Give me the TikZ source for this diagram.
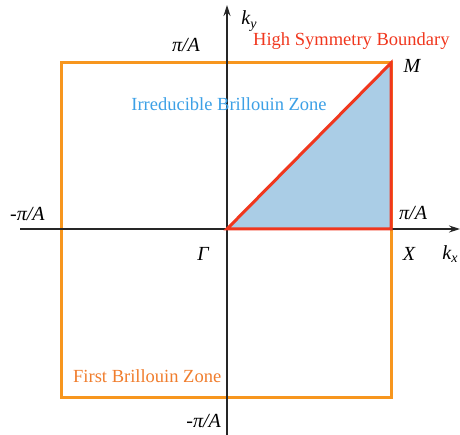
\documentclass[tikz,border=0pt]{standalone}
\usepackage{fontspec}
\setmainfont{Liberation Serif}
\newfontfamily\tms{Liberation Serif}
\usetikzlibrary{arrows.meta}
\definecolor{zoneorange}{RGB}{247,150,30}
\definecolor{zonered}{RGB}{240,55,30}
\definecolor{ibzfill}{RGB}{170,205,230}
\definecolor{ibztext}{RGB}{60,160,230}
\definecolor{fbztext}{RGB}{240,125,45}
\tikzset{
  axis/.style={draw=black!85, line width=1.3pt, -{Stealth[length=11pt,width=7pt]}},
  lbl/.style={inner sep=0pt, font=\tms\fontsize{20}{22}\selectfont\itshape},
  txt/.style={inner sep=0pt, font=\tms\fontsize{18.5}{20}\selectfont},
}
\begin{document}
\begin{tikzpicture}[x=1pt,y=-1pt]
\useasboundingbox (0,0) rectangle (460,435);
% key points
\coordinate (G) at (227,229);
\coordinate (Xp) at (391,229);
\coordinate (Mp) at (391,63);
\coordinate (TL) at (61,63);
\coordinate (BR) at (391,397);
\coordinate (axL) at (20,229);
\coordinate (axR) at (460,229);
\coordinate (axB) at (227,435);
\coordinate (axT) at (227,5);
% first Brillouin zone
\draw[zoneorange, line width=3pt] (TL) rectangle (BR);
% irreducible zone
\fill[ibzfill] (G) -- (Xp) -- (Mp) -- cycle;
% axes
\draw[axis] (axL) -- (axR);
\draw[axis] (axB) -- (axT);
% boundary
\draw[zonered, line width=3pt, line join=miter] (G) -- (Xp) -- (Mp) -- cycle;
% labels
\node[lbl, anchor=east] (piT) at (200,45) {π/A};
\node[lbl, anchor=west] (piL) at (10,214) {-π/A};
\node[lbl, anchor=west] (piR) at (399,213) {π/A};
\node[lbl, anchor=east] (piB) at (221,421) {-π/A};
\node[lbl] (ky) at (249,21) {k\raisebox{-0.35ex}{\fontsize{14}{15}\selectfont y}};
\node[lbl] (kx) at (450,254) {k\raisebox{-0.35ex}{\fontsize{14}{15}\selectfont x}};
\node[lbl] (gam) at (203,254) {Γ};
\node[lbl] (xl) at (409,254) {X};
\node[lbl] (ml) at (412,66) {M};
\node[txt, text=zonered, anchor=west] (hsb) at (253,41) {High Symmetry Boundary};
\node[txt, text=ibztext] (ibz) at (229,104) {Irreducible Brillouin Zone};
\node[txt, text=fbztext, anchor=west] (fbz) at (73,376) {First Brillouin Zone};
\end{tikzpicture}
\end{document}
